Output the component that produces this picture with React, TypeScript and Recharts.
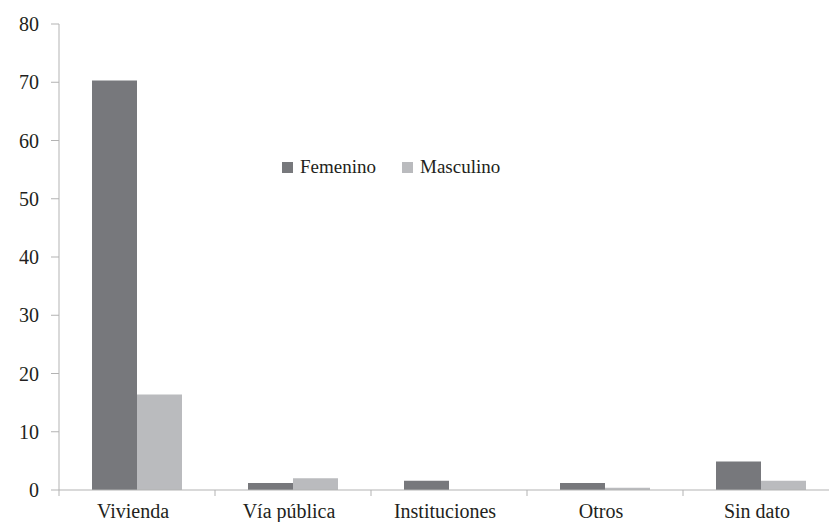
import React from 'react';
import { BarChart, Bar, XAxis, YAxis, Legend } from 'recharts';

const categories = ['Vivienda', 'Vía pública', 'Instituciones', 'Otros', 'Sin dato'];
const femenino = [70.3, 1.2, 1.6, 1.2, 4.9];
const masculino = [16.4, 2.0, 0, 0.4, 1.6];
const yTicks = [0, 10, 20, 30, 40, 50, 60, 70, 80];

const data = categories.map((c, i) => ({ name: c, Femenino: femenino[i], Masculino: masculino[i] }));

const FEM = '#77787c';
const MASC = '#babbbe';
const AXIS = '#b3b3b3';
const TEXT = '#231f20';
const FONT = "'Liberation Serif', 'DejaVu Serif', 'Noto Serif', 'FreeSerif', 'Tinos', 'Times New Roman', Times, Georgia, 'Noto Serif CJK SC', serif";

const XTick = (props: any) => {
  const { x, y, payload } = props;
  const off = payload && typeof payload.offset === 'number' ? payload.offset : 0;
  return (
    <g>
      <line x1={x - off} x2={x - off} y1={y} y2={y + 6} stroke={AXIS} strokeWidth={1} />
      <text x={x - 4} y={y + 28} textAnchor="middle" style={{ fontFamily: FONT }} fontSize={20} fill={TEXT}>
        {payload.value}
      </text>
    </g>
  );
};

const YTick = (props: any) => {
  const { x, y, payload } = props;
  return (
    <text x={x} y={y} dy={7} textAnchor="end" style={{ fontFamily: FONT }} fontSize={20} fill={TEXT}>
      {payload.value}
    </text>
  );
};

const LegendContent = () => (
  <div style={{ display: 'flex', alignItems: 'center', fontFamily: FONT, fontSize: 19, color: TEXT, whiteSpace: 'nowrap' }}>
    <span style={{ display: 'inline-block', width: 11, height: 11, background: FEM, marginRight: 7 }} />
    <span style={{ marginRight: 26 }}>Femenino</span>
    <span style={{ display: 'inline-block', width: 11, height: 11, background: MASC, marginRight: 7 }} />
    <span>Masculino</span>
  </div>
);

export default function App() {
  return (
    <div style={{ position: 'absolute', left: 0, top: 0, width: 829, height: 522, overflow: 'hidden', background: '#fff', fontFamily: FONT }}>
      <BarChart
        width={840}
        height={522}
        data={data}
        margin={{ top: 24, right: 1, bottom: 0, left: 0 }}
        barCategoryGap={33}
        barGap={0}
      >
        <XAxis
          dataKey="name"
          height={32}
          tickLine={false}
          tickSize={0}
          tickMargin={0}
          axisLine={{ stroke: AXIS }}
          tick={<XTick />}
          interval={0}
        />
        <YAxis
          width={59}
          domain={[0, 80]}
          ticks={yTicks}
          interval={0}
          tickSize={8}
          tickMargin={12}
          axisLine={{ stroke: AXIS }}
          tickLine={{ stroke: AXIS }}
          tick={<YTick />}
        />
        <Legend
          layout="horizontal"
          verticalAlign="middle"
          align="center"
          content={<LegendContent />}
          wrapperStyle={{ position: 'absolute', left: 282, top: 156, width: 'auto' }}
        />
        <Bar dataKey="Femenino" fill={FEM} isAnimationActive={false} />
        <Bar dataKey="Masculino" fill={MASC} isAnimationActive={false} />
      </BarChart>
    </div>
  );
}
